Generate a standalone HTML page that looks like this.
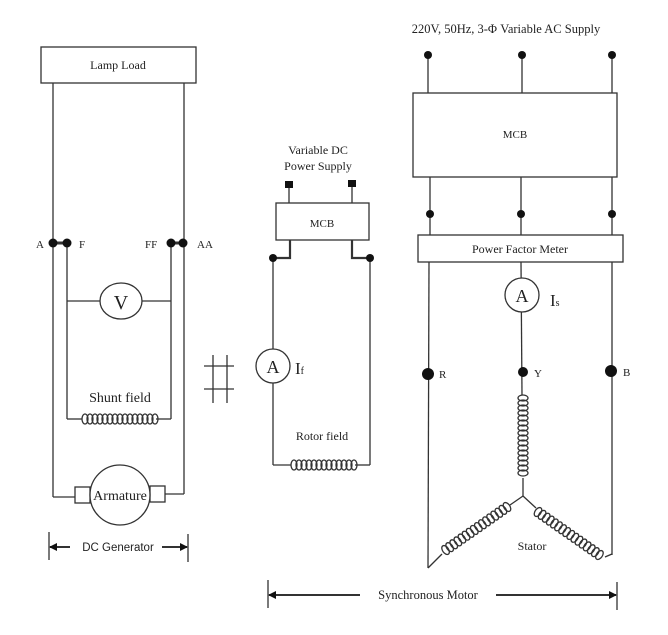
<!DOCTYPE html>
<html><head><style>
body{margin:0;background:#fff;}
svg{display:block;font-family:"Liberation Serif",serif;}
</style></head><body>
<svg width="668" height="635" viewBox="0 0 668 635" xmlns="http://www.w3.org/2000/svg">
<defs>
<g id="coil">
<ellipse cx="0" cy="0" rx="3" ry="5" fill="none" stroke="#333" stroke-width="1.3"/>
</g>
<marker id="ar" markerWidth="8" markerHeight="8" refX="7" refY="4" orient="auto" markerUnits="userSpaceOnUse"><path d="M0,0 L8,4 L0,8z" fill="#111"/></marker>
</defs>
<g stroke="#333" stroke-width="1.3" fill="none">
<rect x="41" y="47" width="155" height="36"/>
<line x1="53" y1="83" x2="53" y2="497"/><line x1="53" y1="497" x2="75" y2="497"/>
<line x1="184" y1="83" x2="184" y2="494"/><line x1="165" y1="494" x2="184" y2="494"/>
<line x1="53" y1="243" x2="67" y2="243" stroke-width="3"/>
<line x1="171" y1="243" x2="184" y2="243" stroke-width="3"/>
<line x1="67" y1="243" x2="67" y2="419"/><line x1="67" y1="419" x2="82" y2="419"/>
<line x1="171" y1="243" x2="171" y2="419"/><line x1="156" y1="419" x2="171" y2="419"/>
<line x1="67" y1="301" x2="100" y2="301"/><line x1="142" y1="301" x2="171" y2="301"/>
<ellipse cx="121" cy="301" rx="21" ry="18" fill="#fff"/>
<rect x="75" y="487" width="15" height="16" fill="#fff"/>
<rect x="150" y="486" width="15" height="16" fill="#fff"/>
<circle cx="120" cy="495" r="30" fill="#fff"/>
<line x1="213" y1="355" x2="213" y2="403"/><line x1="227" y1="355" x2="227" y2="403"/>
<line x1="204" y1="366" x2="234" y2="366"/><line x1="204" y1="389" x2="234" y2="389"/>
<line x1="49" y1="532" x2="49" y2="560"/><line x1="188" y1="534" x2="188" y2="562"/>
<line x1="70" y1="547" x2="50" y2="547" stroke-width="2" marker-end="url(#ar)"/>
<line x1="162" y1="547" x2="187" y2="547" stroke-width="2" marker-end="url(#ar)"/>
<line x1="268" y1="580" x2="268" y2="608"/><line x1="617" y1="582" x2="617" y2="610"/>
<line x1="360" y1="595" x2="269" y2="595" stroke-width="2" marker-end="url(#ar)"/>
<line x1="496" y1="595" x2="616" y2="595" stroke-width="2" marker-end="url(#ar)"/>
<line x1="289" y1="185" x2="289" y2="203"/><line x1="352" y1="184" x2="352" y2="203"/>
<rect x="276" y="203" width="93" height="37"/>
<path d="M290 240 V258 H273" stroke-width="2.2"/><path d="M352 240 V258 H370" stroke-width="2.2"/>
<line x1="273" y1="258" x2="273" y2="465"/><line x1="370" y1="258" x2="370" y2="465"/>
<line x1="273" y1="465" x2="291" y2="465"/><line x1="355" y1="465" x2="370" y2="465"/>
<circle cx="273" cy="366" r="17" fill="#fff"/>
<line x1="428" y1="55" x2="428" y2="93"/><line x1="522" y1="55" x2="522" y2="93"/><line x1="612" y1="55" x2="612" y2="93"/>
<rect x="413" y="93" width="204" height="84"/>
<line x1="430" y1="177" x2="430" y2="235"/><line x1="521" y1="177" x2="521" y2="235"/><line x1="612" y1="177" x2="612" y2="235"/>
<rect x="418" y="235" width="205" height="27"/>
<line x1="429" y1="262" x2="428" y2="568"/><line x1="612" y1="262" x2="612" y2="555"/>
<line x1="521" y1="262" x2="522" y2="395"/>
<circle cx="522" cy="295" r="17" fill="#fff"/>
<line x1="523" y1="478" x2="523" y2="496"/><line x1="523" y1="496" x2="510" y2="505"/><line x1="523" y1="496" x2="536" y2="508"/>
<line x1="442" y1="554" x2="428" y2="568"/><line x1="605" y1="557" x2="612" y2="554"/>
</g>
<g>
<g transform="translate(85,419)"><use href="#coil" x="0"/><use href="#coil" x="5"/><use href="#coil" x="10"/><use href="#coil" x="15"/><use href="#coil" x="20"/><use href="#coil" x="25"/><use href="#coil" x="30"/><use href="#coil" x="35"/><use href="#coil" x="40"/><use href="#coil" x="45"/><use href="#coil" x="50"/><use href="#coil" x="55"/><use href="#coil" x="60"/><use href="#coil" x="65"/><use href="#coil" x="70"/></g>
<g transform="translate(294,465)"><use href="#coil" x="0"/><use href="#coil" x="5"/><use href="#coil" x="10"/><use href="#coil" x="15"/><use href="#coil" x="20"/><use href="#coil" x="25"/><use href="#coil" x="30"/><use href="#coil" x="35"/><use href="#coil" x="40"/><use href="#coil" x="45"/><use href="#coil" x="50"/><use href="#coil" x="55"/><use href="#coil" x="60"/></g>
<g transform="translate(523,398) rotate(90)"><use href="#coil" x="0"/><use href="#coil" x="5"/><use href="#coil" x="10"/><use href="#coil" x="15"/><use href="#coil" x="20"/><use href="#coil" x="25"/><use href="#coil" x="30"/><use href="#coil" x="35"/><use href="#coil" x="40"/><use href="#coil" x="45"/><use href="#coil" x="50"/><use href="#coil" x="55"/><use href="#coil" x="60"/><use href="#coil" x="65"/><use href="#coil" x="70"/><use href="#coil" x="75"/></g>
<g transform="translate(507,507) rotate(145)"><use href="#coil" x="0"/><use href="#coil" x="5"/><use href="#coil" x="10"/><use href="#coil" x="15"/><use href="#coil" x="20"/><use href="#coil" x="25"/><use href="#coil" x="30"/><use href="#coil" x="35"/><use href="#coil" x="40"/><use href="#coil" x="45"/><use href="#coil" x="50"/><use href="#coil" x="55"/><use href="#coil" x="60"/><use href="#coil" x="65"/><use href="#coil" x="70"/><use href="#coil" x="75"/></g>
<g transform="translate(538,512) rotate(35)"><use href="#coil" x="0"/><use href="#coil" x="5"/><use href="#coil" x="10"/><use href="#coil" x="15"/><use href="#coil" x="20"/><use href="#coil" x="25"/><use href="#coil" x="30"/><use href="#coil" x="35"/><use href="#coil" x="40"/><use href="#coil" x="45"/><use href="#coil" x="50"/><use href="#coil" x="55"/><use href="#coil" x="60"/><use href="#coil" x="65"/><use href="#coil" x="70"/><use href="#coil" x="75"/></g>
</g>
<g fill="#111">
<circle cx="53" cy="243" r="4.5"/><circle cx="67" cy="243" r="4.5"/><circle cx="171" cy="243" r="4.5"/><circle cx="183" cy="243" r="4.5"/>
<rect x="285" y="181" width="8" height="7"/><rect x="348" y="180" width="8" height="7"/>
<circle cx="273" cy="258" r="4"/><circle cx="370" cy="258" r="4"/>
<circle cx="428" cy="55" r="4"/><circle cx="522" cy="55" r="4"/><circle cx="612" cy="55" r="4"/>
<circle cx="430" cy="214" r="4"/><circle cx="521" cy="214" r="4"/><circle cx="612" cy="214" r="4"/>
<circle cx="428" cy="374" r="6"/><circle cx="523" cy="372" r="5"/><circle cx="611" cy="371" r="6"/>
</g>
<g fill="#222" font-size="12">
<text x="118" y="69" text-anchor="middle">Lamp Load</text>
<text x="36" y="248" font-size="11">A</text><text x="79" y="248" font-size="11">F</text>
<text x="145" y="248" font-size="11">FF</text><text x="197" y="248" font-size="11">AA</text>
<text x="121" y="309" text-anchor="middle" font-size="20">V</text>
<text x="120" y="402" text-anchor="middle" font-size="14">Shunt field</text>
<text x="120" y="500" text-anchor="middle" font-size="14">Armature</text>
<text x="118" y="551" text-anchor="middle" font-family="Liberation Sans,sans-serif" font-size="11.5">DC Generator</text>
<text x="318" y="154" text-anchor="middle">Variable DC</text>
<text x="318" y="170" text-anchor="middle">Power Supply</text>
<text x="322" y="227" text-anchor="middle" font-size="11">MCB</text>
<text x="273" y="373" text-anchor="middle" font-size="18">A</text>
<text x="295" y="374" font-size="17">I<tspan font-size="10">f</tspan></text>
<text x="322" y="440" text-anchor="middle">Rotor field</text>
<text x="506" y="33" text-anchor="middle" font-size="12.5">220V, 50Hz, 3-Φ Variable AC Supply</text>
<text x="515" y="138" text-anchor="middle" font-size="11">MCB</text>
<text x="520" y="253" text-anchor="middle">Power Factor Meter</text>
<text x="522" y="302" text-anchor="middle" font-size="18">A</text>
<text x="550" y="306" font-size="17">I<tspan font-size="10">s</tspan></text>
<text x="439" y="378" font-size="11">R</text><text x="534" y="377" font-size="11">Y</text><text x="623" y="376" font-size="11">B</text>
<text x="532" y="550" text-anchor="middle">Stator</text>
<text x="428" y="599" text-anchor="middle" font-size="12.5">Synchronous Motor</text>
</g>
</svg>
</body></html>
